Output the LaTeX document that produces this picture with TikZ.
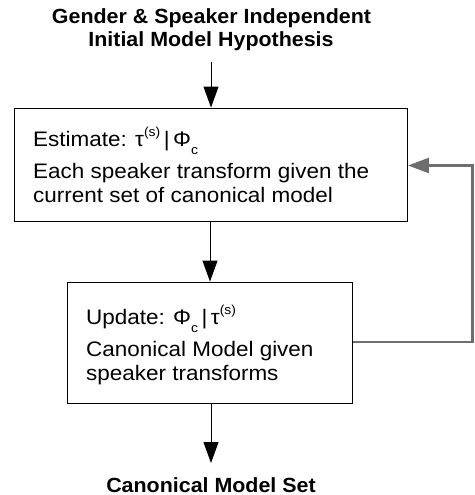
\documentclass[tikz,border=0pt]{standalone}
\usepackage{fontspec}
\setmainfont{Liberation Sans}[FakeStretch=1.07, BoldFeatures={FakeStretch=1.045}]
\usetikzlibrary{arrows.meta}
\definecolor{fbgray}{HTML}{6E6E6E}
\tikzset{
  box/.style={draw=black, line width=0.9pt, fill=white, inner sep=0pt},
  txt/.style={inner sep=0pt, anchor=base west, font=\fontsize{21}{24}\selectfont},
  ttl/.style={inner sep=0pt, anchor=base, font=\fontsize{20.5}{24}\selectfont\bfseries},
  flow/.style={draw=black, line width=0.9pt, -{Triangle[length=21pt,width=15pt]}},
  fb/.style={draw=fbgray, line width=2.7pt, -{Triangle[length=21pt,width=15pt]}}
}
\newcommand{\sgsup}[1]{\raisebox{0.45em}{\fontsize{13}{13}\selectfont #1}}
\newcommand{\sgsub}[1]{\raisebox{-0.4em}{\fontsize{13}{13}\selectfont #1}}
\begin{document}
\begin{tikzpicture}[x=1pt,y=-1pt]
\useasboundingbox (0,0) rectangle (474,495);
% title
\node[ttl] (t1) at (211.5,24) {Gender \& Speaker Independent};
\node[ttl] (t2) at (211,46.5) {Initial Model Hypothesis};
\coordinate (tin) at (211,62);
% boxes
\node[box, minimum width=393.5pt, minimum height=113.5pt] (est) at (210.75,164.75) {};
\node[box, minimum width=285.5pt, minimum height=121pt] (upd) at (210,342.5) {};
% text in box 1
\node[txt] (el1) at (33,146) {Estimate: τ\sgsup{(s)}\,|\,Φ\sgsub{c}};
\node[txt] (el2) at (33,178) {Each speaker transform given the};
\node[txt] (el3) at (33,202) {current set of canonical model};
% text in box 2
\node[txt] (ul1) at (86,324) {Update: Φ\sgsub{c}\,|\,τ\sgsup{(s)}};
\node[txt] (ul2) at (86,356) {Canonical Model given};
\node[txt] (ul3) at (86,380) {speaker transforms};
% bottom
\node[ttl] (bt) at (211,492) {Canonical Model Set};
\coordinate (bout) at (211,463);
% arrows
\draw[flow] (tin) -- (est.north -| tin);
\draw[flow] (est.south -| 210,0) -- (upd.north -| 210,0);
\draw[flow] (upd.south -| 211,0) -- (bout);
\coordinate (fbr) at (472.3,0);
\draw[fb] (upd.east |- 0,342) -- (fbr |- 0,342) -- (fbr |- 0,165.5) -- (est.east |- 0,165.5);
\end{tikzpicture}
\end{document}
